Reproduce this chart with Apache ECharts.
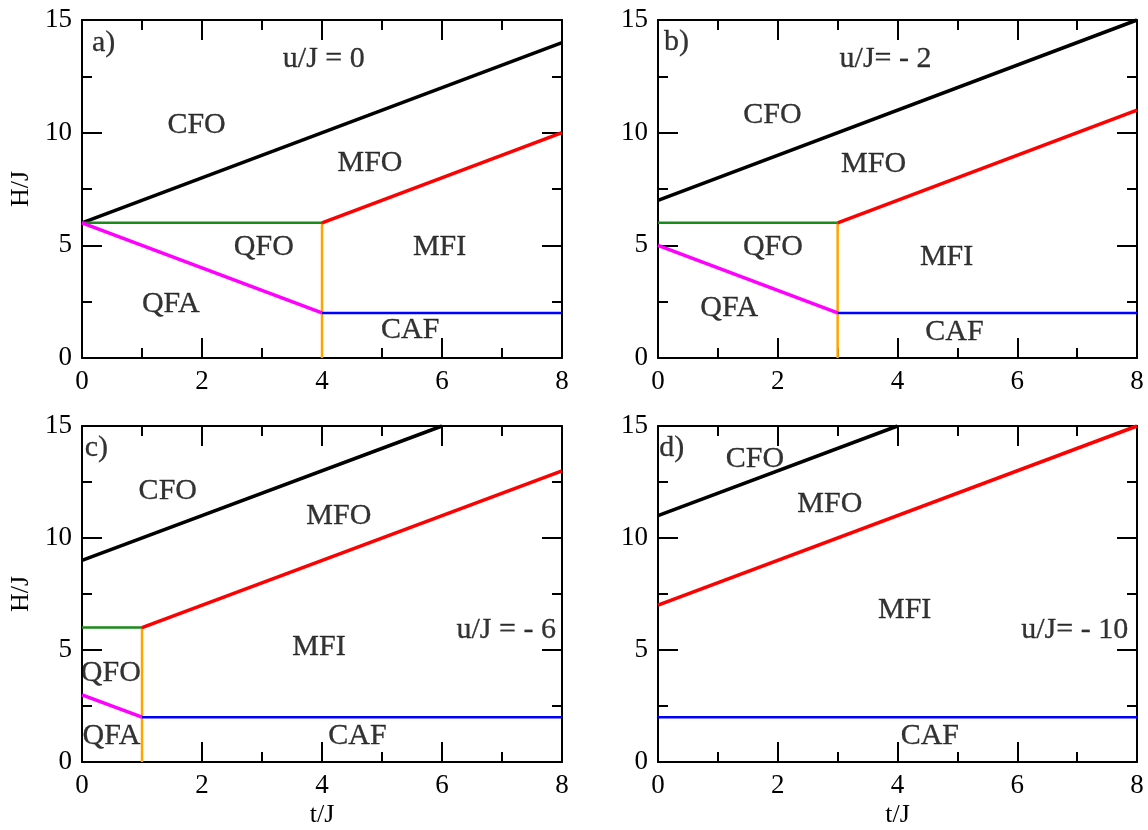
<!DOCTYPE html>
<html><head><meta charset="utf-8">
<script src="https://cdn.jsdelivr.net/npm/echarts@6/dist/echarts.min.js"></script>
<style>html,body{margin:0;padding:0;background:#fff}#c{width:1148px;height:830px}</style>
</head><body><div id="c"></div>
<script>
// Panel a) u/J = 0
const a_black   = [[0, 6], [8, 14]];
const a_red     = [[4, 6], [8, 10]];
const a_green   = [[0, 6], [4, 6]];
const a_magenta = [[0, 6], [4, 2]];
const a_orange  = [[4, 0], [4, 6]];
const a_blue    = [[4, 2], [8, 2]];
const a_labels  = [["a)", 0.36, 13.98], ["u/J = 0", 4.03, 13.27], ["CFO", 1.91, 10.34], ["MFO", 4.8, 8.63],
                   ["QFO", 3.03, 4.93], ["MFI", 5.96, 4.9], ["QFA", 1.48, 2.4], ["CAF", 5.47, 1.24]];
// Panel b) u/J = -2
const b_black   = [[0, 7], [8, 15]];
const b_red     = [[3, 6], [8, 11]];
const b_green   = [[0, 6], [3, 6]];
const b_magenta = [[0, 5], [3, 2]];
const b_orange  = [[3, 0], [3, 6]];
const b_blue    = [[3, 2], [8, 2]];
const b_labels  = [["b)", 0.31, 14.02], ["u/J= - 2", 3.8, 13.27], ["CFO", 1.91, 10.8], ["MFO", 3.6, 8.59],
                   ["QFO", 1.92, 4.93], ["MFI", 4.82, 4.48], ["QFA", 1.19, 2.22], ["CAF", 4.95, 1.15]];
// Panel c) u/J = -6
const c_black   = [[0, 9], [6, 15]];
const c_red     = [[1, 6], [8, 13]];
const c_green   = [[0, 6], [1, 6]];
const c_magenta = [[0, 3], [1, 2]];
const c_orange  = [[1, 0], [1, 6]];
const c_blue    = [[1, 2], [8, 2]];
const c_labels  = [["c)", 0.24, 14.02], ["CFO", 1.43, 12.1], ["MFO", 4.28, 10.98], ["u/J = - 6", 7.07, 5.89],
                   ["MFI", 3.95, 5.11], ["QFO", 0.48, 3.97], ["QFA", 0.49, 1.16], ["CAF", 4.59, 1.16]];
// Panel d) u/J = -10
const d_black   = [[0, 11], [4, 15]];
const d_red     = [[0, 7], [8, 15]];
const d_blue    = [[0, 2], [8, 2]];
const d_labels  = [["d)", 0.23, 14.02], ["CFO", 1.62, 13.53], ["MFO", 2.87, 11.5], ["MFI", 4.12, 6.79],
                   ["u/J= - 10", 6.96, 5.89], ["CAF", 4.54, 1.16]];

const xRange = [0, 8], xStep = 2;
const yRange = [0, 15], yStep = 5;
const xTitle = "t/J", yTitle = "H/J";

const FONT = "'Liberation Serif','Times New Roman',serif";
const COLORS = {black: '#000000', red: '#ff0000', green: '#1a8a1a', magenta: '#ff00ff', orange: '#ffa500', blue: '#0000ff'};
const WIDTHS = {black: 3.5, red: 3.5, green: 2.5, magenta: 3.5, orange: 2.5, blue: 2.5};

const panels = [
  {lines: {orange: a_orange, black: a_black, red: a_red, green: a_green, magenta: a_magenta, blue: a_blue}, labels: a_labels, yName: true, xName: false},
  {lines: {orange: b_orange, black: b_black, red: b_red, green: b_green, magenta: b_magenta, blue: b_blue}, labels: b_labels, yName: false, xName: false},
  {lines: {orange: c_orange, black: c_black, red: c_red, green: c_green, magenta: c_magenta, blue: c_blue}, labels: c_labels, yName: true, xName: true},
  {lines: {black: d_black, red: d_red, blue: d_blue}, labels: d_labels, yName: false, xName: true}
];
const gridRects = [
  {left: 82, top: 20, width: 480, height: 338},
  {left: 658, top: 20, width: 479, height: 338},
  {left: 82, top: 426, width: 480, height: 336},
  {left: 658, top: 426, width: 479, height: 336}
];

function axisCommon(showLabel) {
  return {
    axisLine: {show: true, onZero: false, lineStyle: {color: '#000', width: 2}},
    axisTick: {show: true, inside: true, length: 20, lineStyle: {color: '#000', width: 2}},
    minorTick: {show: true, splitNumber: 2, length: 10, lineStyle: {color: '#000', width: 2}},
    splitLine: {show: false}, minorSplitLine: {show: false},
    axisLabel: {show: showLabel, color: '#000', fontSize: 27, fontFamily: FONT, margin: 10},
  };
}

const grid = [], xAxis = [], yAxis = [], series = [];
panels.forEach((p, i) => {
  grid.push(Object.assign({show: false, containLabel: false}, gridRects[i]));
  xAxis.push(Object.assign(axisCommon(true), {
    type: 'value', gridIndex: i, position: 'bottom', min: xRange[0], max: xRange[1], interval: xStep,
    name: p.xName ? xTitle : '', nameLocation: 'middle', nameGap: 40,
    nameTextStyle: {color: '#000', fontSize: 26, fontFamily: FONT}
  }));
  xAxis.push(Object.assign(axisCommon(false), {
    type: 'value', gridIndex: i, position: 'top', min: xRange[0], max: xRange[1], interval: xStep
  }));
  yAxis.push(Object.assign(axisCommon(true), {
    type: 'value', gridIndex: i, position: 'left', min: yRange[0], max: yRange[1], interval: yStep,
    name: p.yName ? yTitle : '', nameLocation: 'middle', nameGap: 48, nameRotate: 90,
    nameTextStyle: {color: '#000', fontSize: 26, fontFamily: FONT}
  }));
  yAxis.push(Object.assign(axisCommon(false), {
    type: 'value', gridIndex: i, position: 'right', min: yRange[0], max: yRange[1], interval: yStep
  }));
  Object.keys(p.lines).forEach(k => {
    series.push({
      type: 'line', xAxisIndex: 2 * i, yAxisIndex: 2 * i, data: p.lines[k],
      showSymbol: false, symbol: 'none', silent: true, animation: false,
      lineStyle: {color: COLORS[k], width: WIDTHS[k]}, z: k === 'orange' ? 2 : 3
    });
  });
  series.push({
    type: 'scatter', xAxisIndex: 2 * i, yAxisIndex: 2 * i, symbolSize: 1, silent: true, animation: false,
    itemStyle: {color: 'rgba(0,0,0,0)'},
    data: p.labels.map(l => ({name: l[0], value: [l[1], l[2]]})),
    label: {show: true, position: 'inside', formatter: '{b}', color: '#000', fontSize: 30, fontFamily: FONT,
            textBorderColor: '#000', textBorderWidth: 0.3}, z: 5
  });
});

const chart = echarts.init(document.getElementById('c'), null, {renderer: 'canvas'});
chart.setOption({backgroundColor: '#fff', animation: false, grid, xAxis, yAxis, series});
</script></body></html>
